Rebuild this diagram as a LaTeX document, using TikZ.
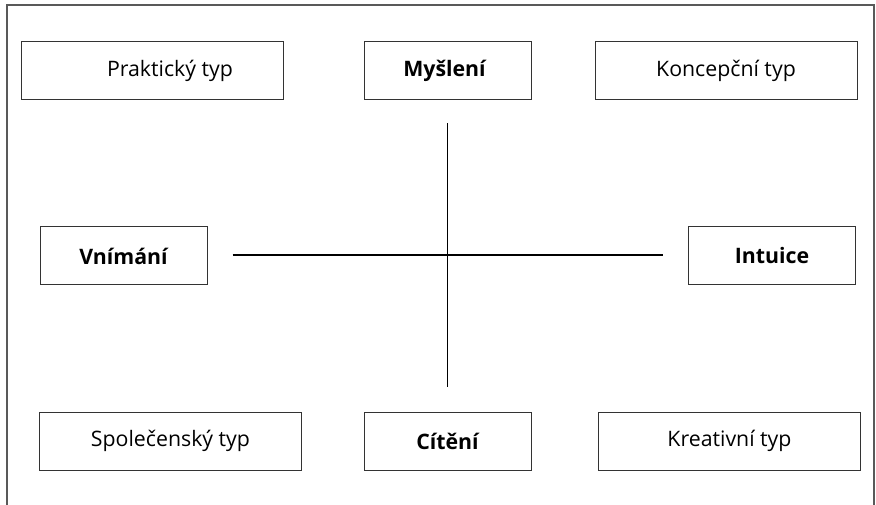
\documentclass[tikz,border=0pt]{standalone}
\usepackage{fontspec}
\setmainfont{Open Sans}
\begin{document}
\begin{tikzpicture}[x=1pt,y=-1pt,
  typebox/.style={draw=black!80,line width=1pt,rectangle,minimum width=262pt,minimum height=58pt,inner sep=0pt,font=\fontsize{21.3}{23}\selectfont},
  funcbox/.style={draw=black!80,line width=1pt,rectangle,minimum width=167pt,minimum height=58pt,inner sep=0pt,font=\fontsize{21.3}{23}\selectfont\bfseries},
  axis/.style={draw=black,line width=1.6pt},
  frame/.style={draw=black!65,line width=2pt}]
\useasboundingbox (0,0) rectangle (876,505);
\draw[frame] (6.5,505) -- (6.5,5) -- (874,5) -- (874,505);
\node[typebox] (prakt) at (152,71) {\hspace*{36pt}Praktický typ};
\node[funcbox] (mysl) at (447.5,71) {\hspace*{-6pt}Myšlení};
\node[typebox] (konc) at (726,71) {Koncepční typ};
\node[funcbox] (vnim) at (123.5,256) {Vnímání};
\node[funcbox] (intu) at (772,256) {Intuice};
\node[typebox] (spol) at (170.5,441) {Společenský typ};
\node[funcbox] (cite) at (447.5,441) {Cítění};
\node[typebox] (krea) at (729.5,441) {Kreativní typ};
\draw[axis,shorten <=23pt,shorten >=25pt] (mysl.south) -- (cite.north);
\draw[axis,shorten <=25pt,shorten >=25pt] ([yshift=1pt]vnim.east) -- ([yshift=1pt]intu.west);
\end{tikzpicture}
\end{document}
